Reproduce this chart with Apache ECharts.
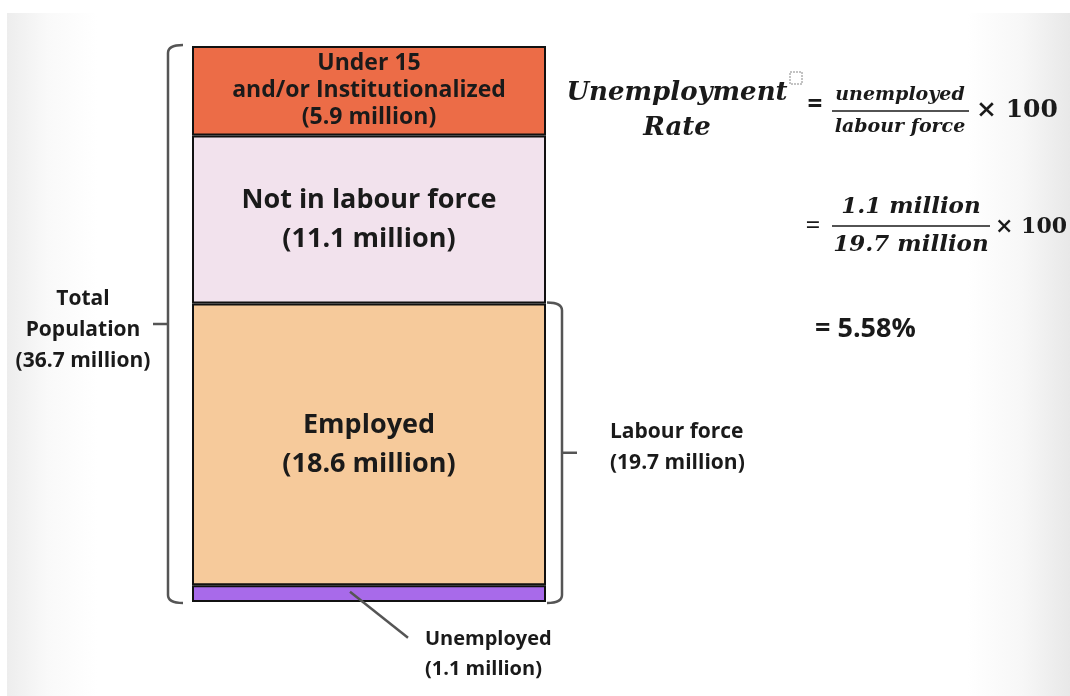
<!DOCTYPE html>
<html>
<head>
<meta charset="utf-8">
<script src="https://cdn.jsdelivr.net/npm/echarts@6/dist/echarts.min.js"></script>
<style>
  html, body { margin: 0; padding: 0; background: #fff; }
  #slide {
    position: absolute; left: 7px; top: 13px; width: 1063px; height: 683px;
    background: linear-gradient(to right, #ededed 0, #f9f9f9 40px, #fff 90px, #fff 960px, #f7f7f7 1015px, #e8e8e8 1063px);
  }
  #chart { position: absolute; left: 0; top: 0; width: 1070px; height: 696px; }
</style>
</head>
<body>
<div id="slide"></div>
<div id="chart"></div>
<script>
// Population breakdown, in millions, stacked from the bottom of the bar upward
const barCategory = ['Population'];
const segmentNames = ['Unemployed', 'Employed', 'Not in labour force', 'Under 15\nand/or Institutionalized'];
const segmentValues = [1.1, 18.6, 11.1, 5.9];

const unemployed = segmentValues[0];
const labourForce = segmentValues[0] + segmentValues[1];
const totalPopulation = segmentValues.reduce((a, b) => a + b, 0);
const unemploymentRate = unemployed / labourForce * 100;

const fmt = v => v.toFixed(1);
const palette = ['#a86aea', '#f6ca9b', '#f2e2ed', '#ec6c47'];
const SANS = '"Open Sans", Lato, sans-serif';
const SERIF = '"DejaVu Serif", serif';

// Brackets: [x, from, to, side(0 = left, 1 = right)]
const bracketNames = ['Total\nPopulation', 'Labour force'];
const bracketData = [
  [0, 0, totalPopulation, 0],
  [0, 0, labourForce, 1]
];

function renderBracket(params, api) {
  const from = api.value(1), to = api.value(2), side = api.value(3);
  const pBottom = api.coord([0, from]);
  const pTop = api.coord([0, to]);
  const band = api.size([1, 0])[0];
  const barLeft = pBottom[0] - band / 2, barRight = pBottom[0] + band / 2;
  const top = pTop[1] - 1, bottom = pBottom[1] + 1;
  const mid = (top + bottom) / 2;
  const stroke = { stroke: '#555', lineWidth: 2.5, fill: null };
  const children = [];
  const value = side === 0 ? totalPopulation : labourForce;
  const label = bracketNames[params.dataIndex] + '\n(' + fmt(value) + ' million)';
  if (side === 0) {
    const xb = barLeft - 24;
    children.push({ type: 'path', shape: { pathData:
      `M ${xb + 15} ${top} Q ${xb} ${top} ${xb} ${top + 8} L ${xb} ${bottom - 8} Q ${xb} ${bottom} ${xb + 15} ${bottom}` },
      style: stroke });
    children.push({ type: 'line', shape: { x1: xb, y1: mid, x2: xb - 15, y2: mid }, style: stroke });
    children.push({ type: 'text', x: xb - 85, y: mid + 6, style: {
      text: label, textAlign: 'center', textVerticalAlign: 'middle',
      font: 'bold 21px ' + SANS, lineHeight: 31, fill: '#1a1a1a' } });
  } else {
    const xb = barRight + 16;
    children.push({ type: 'path', shape: { pathData:
      `M ${xb - 15} ${top} Q ${xb} ${top} ${xb} ${top + 8} L ${xb} ${bottom - 8} Q ${xb} ${bottom} ${xb - 15} ${bottom}` },
      style: stroke });
    children.push({ type: 'line', shape: { x1: xb, y1: mid, x2: xb + 15, y2: mid }, style: stroke });
    children.push({ type: 'text', x: xb + 48, y: mid - 5, style: {
      text: label, textAlign: 'left', textVerticalAlign: 'middle',
      font: 'bold 21px ' + SANS, lineHeight: 31, fill: '#1a1a1a' } });
  }
  return { type: 'group', children };
}

// Callout for the thin unemployed segment: [x, from, to]
const calloutData = [[0, 0, unemployed]];
function renderCallout(params, api) {
  const p0 = api.coord([0, api.value(1)]);
  const p1 = api.coord([0, api.value(2)]);
  const band = api.size([1, 0])[0];
  const barLeft = p0[0] - band / 2;
  const sx = barLeft + 158, sy = (p0[1] + p1[1]) / 2 - 2;
  const ex = sx + 58, ey = sy + 46;
  return { type: 'group', children: [
    { type: 'line', shape: { x1: sx, y1: sy, x2: ex, y2: ey }, style: { stroke: '#555', lineWidth: 2.5 } },
    { type: 'text', x: ex + 17, y: ey + 17, style: {
      text: segmentNames[0] + '\n(' + fmt(api.value(2)) + ' million)',
      textAlign: 'left', textVerticalAlign: 'middle',
      font: 'bold 20px ' + SANS, lineHeight: 30, fill: '#1a1a1a' } }
  ] };
}

const barSeries = segmentValues.map((v, i) => ({
  name: segmentNames[i],
  type: 'bar',
  stack: 'population',
  barCategoryGap: 0,
  barWidth: '100%',
  data: [v],
  itemStyle: { color: palette[i], borderColor: '#111', borderWidth: 2 },
  label: {
    show: i > 0,
    position: 'inside',
    formatter: () => segmentNames[i] + '\n(' + fmt(v) + ' million)',
    color: '#1a1a1a',
    fontFamily: SANS,
    fontWeight: 'bold',
    fontSize: i === 3 ? 23 : 27,
    lineHeight: i === 3 ? 27 : 39
  },
  emphasis: { disabled: true },
  z: 2
}));

const FX = 'bold italic ';
const graphic = [
  { type: 'text', x: 677, y: 93, style: { text: 'Unemployment', textAlign: 'center', textVerticalAlign: 'middle', font: FX + '26px ' + SERIF, fill: '#1a1a1a' } },
  { type: 'text', x: 677, y: 128, style: { text: 'Rate', textAlign: 'center', textVerticalAlign: 'middle', font: FX + '26px ' + SERIF, fill: '#1a1a1a' } },
  { type: 'rect', shape: { x: 790, y: 72, width: 12, height: 12 }, style: { fill: null, stroke: '#888', lineWidth: 1, lineDash: [2, 1] } },
  { type: 'text', x: 815, y: 106, style: { text: '=', textAlign: 'center', textVerticalAlign: 'middle', font: 'bold 26px ' + SANS, fill: '#1a1a1a' } },
  { type: 'text', x: 900, y: 95, style: { text: 'unemployed', textAlign: 'center', textVerticalAlign: 'middle', font: FX + '19px ' + SERIF, fill: '#1a1a1a' } },
  { type: 'line', shape: { x1: 832, y1: 111, x2: 969, y2: 111 }, style: { stroke: '#1a1a1a', lineWidth: 1.5 } },
  { type: 'text', x: 900, y: 127, style: { text: 'labour force', textAlign: 'center', textVerticalAlign: 'middle', font: FX + '19px ' + SERIF, fill: '#1a1a1a' } },
  { type: 'text', x: 976, y: 110, style: { text: '× 100', textAlign: 'left', textVerticalAlign: 'middle', font: 'bold 25px ' + SERIF, fill: '#1a1a1a' } },
  { type: 'text', x: 813, y: 227, style: { text: '=', textAlign: 'center', textVerticalAlign: 'middle', font: '26px ' + SANS, fill: '#1a1a1a' } },
  { type: 'text', x: 911, y: 207, style: { text: fmt(unemployed) + ' million', textAlign: 'center', textVerticalAlign: 'middle', font: FX + '23px ' + SERIF, fill: '#1a1a1a' } },
  { type: 'line', shape: { x1: 832, y1: 226, x2: 990, y2: 226 }, style: { stroke: '#1a1a1a', lineWidth: 1.5 } },
  { type: 'text', x: 911, y: 245, style: { text: fmt(labourForce) + ' million', textAlign: 'center', textVerticalAlign: 'middle', font: FX + '23px ' + SERIF, fill: '#1a1a1a' } },
  { type: 'text', x: 995, y: 227, style: { text: '× 100', textAlign: 'left', textVerticalAlign: 'middle', font: 'bold 22px ' + SERIF, fill: '#1a1a1a' } },
  { type: 'text', x: 815, y: 329, style: { text: '= ' + unemploymentRate.toFixed(2) + '%', textAlign: 'left', textVerticalAlign: 'middle', font: 'bold 27px ' + SANS, fill: '#1a1a1a' } }
];

const chart = echarts.init(document.getElementById('chart'), null, { renderer: 'canvas' });
chart.setOption({
  backgroundColor: 'transparent',
  animation: false,
  grid: { left: 192, right: 524, top: 46, bottom: 94 },
  xAxis: { type: 'category', data: barCategory, show: false },
  yAxis: { type: 'value', min: 0, max: totalPopulation, show: false },
  series: barSeries.concat([
    { type: 'custom', name: 'brackets', data: bracketData, renderItem: renderBracket, clip: false, silent: true, z: 3 },
    { type: 'custom', name: 'callout', data: calloutData, renderItem: renderCallout, clip: false, silent: true, z: 3 }
  ]),
  graphic
});
</script>
</body>
</html>
